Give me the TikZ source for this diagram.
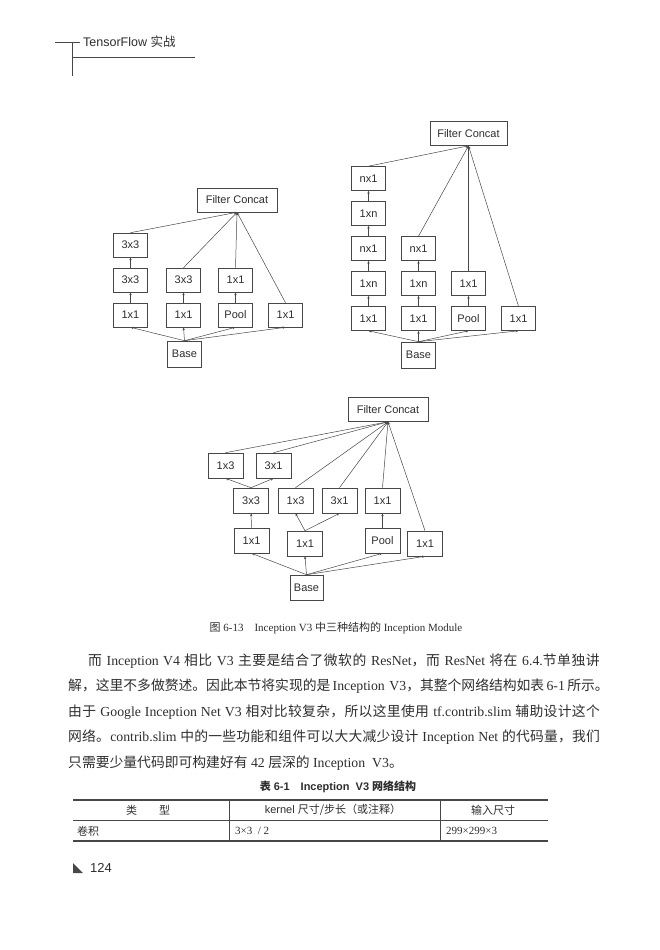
\documentclass[tikz,border=0pt]{standalone}
\usepackage{fontspec}
\setmainfont{Liberation Serif}
\setsansfont{Liberation Sans}
\newfontfamily\cjk{Noto Sans CJK SC}
\makeatletter
\def\zhloop#1{\ifx#1\relax\else#1\hskip0pt plus 1.2pt\relax\expandafter\zhloop\fi}
\newcommand\zh[1]{{\cjk\zhloop#1\relax}}
\makeatother
\usetikzlibrary{arrows.meta}
\definecolor{ink}{gray}{0.18}
\definecolor{linec}{gray}{0.28}
\tikzset{
  bx/.style={draw=linec, line width=0.6pt, fill=white, minimum width=34pt, minimum height=24pt,
    inner sep=0pt, text=ink, font=\sffamily\fontsize{11}{13}\selectfont},
  fcx/.style={bx, minimum width=80pt},
  ar/.style={draw=linec, line width=0.5pt, -{Stealth[length=3pt,width=2.4pt]}},
  para/.style={anchor=base west, inner sep=0pt, text=ink, font=\fontsize{13.8}{15}\selectfont},
  cell/.style={inner sep=0pt, text=ink, font=\fontsize{11}{13}\selectfont},
}
\begin{document}
\begin{tikzpicture}[x=1pt,y=-1pt]
\useasboundingbox (0,0) rectangle (660,950);
% header
\draw[linec, line width=0.6pt] (55,42) -- (80,42);
\draw[linec, line width=0.6pt] (72,42) -- (72,76);
\draw[linec, line width=0.6pt] (72,57) -- (195,57);
\node[anchor=base west, inner sep=0pt, text=ink, font=\sffamily\fontsize{12.5}{14}\selectfont] (hdr) at (83,47) {TensorFlow {\cjk 实战}};

% ---------- diagram 1 ----------
\node[fcx] (fc1) at (237,200) {Filter Concat};
\node[bx] (a11) at (130.5,245) {3x3};
\node[bx] (a12) at (130.5,280) {3x3};
\node[bx] (a13) at (130.5,315) {1x1};
\node[bx] (a22) at (183.5,280) {3x3};
\node[bx] (a23) at (183.5,315) {1x1};
\node[bx] (a32) at (235.5,280) {1x1};
\node[bx] (a33) at (235.5,315) {Pool};
\node[bx] (a43) at (285.5,315) {1x1};
\node[bx, minimum height=26pt] (base1) at (184.5,354) {Base};
\foreach \t in {a13,a23,a33,a43} \draw[ar] (base1.north) -- (\t.south);
\draw[ar] (a13) -- (a12);
\draw[ar] (a12) -- (a11);
\draw[ar] (a23) -- (a22);
\draw[ar] (a33) -- (a32);
\foreach \t in {a11,a22,a32,a43} \draw[ar] (\t.north) -- (fc1.south);

% ---------- diagram 2 ----------
\node[fcx, minimum width=77pt] (fc2) at (468.5,133.5) {Filter Concat};
\node[bx] (b11) at (368.5,178.5) {nx1};
\node[bx] (b12) at (368.5,213.5) {1xn};
\node[bx] (b13) at (368.5,248.5) {nx1};
\node[bx] (b14) at (368.5,283.5) {1xn};
\node[bx] (b15) at (368.5,318.5) {1x1};
\node[bx] (b23) at (418.5,248.5) {nx1};
\node[bx] (b24) at (418.5,283.5) {1xn};
\node[bx] (b25) at (418.5,318.5) {1x1};
\node[bx] (b34) at (468.5,283.5) {1x1};
\node[bx] (b35) at (468.5,318.5) {Pool};
\node[bx] (b45) at (518.5,318.5) {1x1};
\node[bx, minimum height=26pt] (base2) at (418.5,355) {Base};
\foreach \t in {b15,b25,b35,b45} \draw[ar] (base2.north) -- (\t.south);
\draw[ar] (b15) -- (b14);
\draw[ar] (b14) -- (b13);
\draw[ar] (b13) -- (b12);
\draw[ar] (b12) -- (b11);
\draw[ar] (b25) -- (b24);
\draw[ar] (b24) -- (b23);
\draw[ar] (b35) -- (b34);
\foreach \t in {b11,b23,b34,b45} \draw[ar] (\t.north) -- (fc2.south);

% ---------- diagram 3 ----------
\node[fcx] (fc3) at (388,409.5) {Filter Concat};
\node[bx, minimum width=35pt, minimum height=25pt] (c1) at (225.5,465.5) {1x3};
\node[bx, minimum width=35pt, minimum height=25pt] (c2) at (273.5,465.5) {3x1};
\node[bx, minimum width=35pt, minimum height=25pt] (d1) at (251,500.5) {3x3};
\node[bx, minimum width=35pt, minimum height=25pt] (d2) at (295.5,500.5) {1x3};
\node[bx, minimum width=35pt, minimum height=25pt] (d3) at (339.5,500.5) {3x1};
\node[bx, minimum width=35pt, minimum height=25pt] (d4) at (382.5,500.5) {1x1};
\node[bx, minimum width=35pt, minimum height=25pt] (e1) at (251.5,540.5) {1x1};
\node[bx, minimum width=35pt, minimum height=25pt] (e2) at (305,543.5) {1x1};
\node[bx, minimum width=35pt, minimum height=25pt] (e3) at (382.5,540.5) {Pool};
\node[bx, minimum width=35pt, minimum height=25pt] (e4) at (425,543.5) {1x1};
\node[bx, minimum width=33pt, minimum height=25pt] (base3) at (306.5,587.5) {Base};
\foreach \t in {e1,e2,e3,e4} \draw[ar] (base3.north) -- (\t.south);
\draw[ar] (e1) -- (d1);
\draw[ar] (e3) -- (d4);
\draw[ar] (d1.north) -- (c1.south);
\draw[ar] (d1.north) -- (c2.south);
\draw[ar] (e2.north) -- (d2.south);
\draw[ar] (e2.north) -- (d3.south);
\foreach \t in {c1,c2,d2,d3,d4,e4} \draw[ar] (\t.north) -- (fc3.south);

% caption
\node[inner sep=0pt, text=ink, font=\fontsize{11}{13}\selectfont] (cap) at (336,628)
  {{\cjk 图} 6-13\quad Inception V3 {\cjk 中三种结构的} Inception Module};

% paragraph
\node[para] (p1) at (88,665) {\makebox[512pt][s]{\zh{而} Inception V4 \zh{相比} V3 \zh{主要是结合了微软的} ResNet\zh{，而} ResNet \zh{将在} 6.4.\zh{节单独讲}}};
\node[para] (p2) at (68,690.5) {\makebox[532pt][s]{\zh{解，这里不多做赘述。因此本节将实现的是} Inception\ \ V3\zh{，其整个网络结构如表} 6-1 \zh{所示。}}};
\node[para] (p3) at (68,716) {\makebox[532pt][s]{\zh{由于} Google Inception Net V3 \zh{相对比较复杂，所以这里使用} tf.contrib.slim \zh{辅助设计这个}}};
\node[para] (p4) at (68,741.5) {\makebox[532pt][s]{\zh{网络。}contrib.slim \zh{中的一些功能和组件可以大大减少设计} Inception Net \zh{的代码量，我们}}};
\node[para] (p5) at (68,767) {{\cjk 只需要少量代码即可构建好有} 42 {\cjk 层深的} Inception\ \ V3{\cjk 。}};

% table
\node[inner sep=0pt, text=ink, font=\sffamily\bfseries\fontsize{11}{13}\selectfont] (tcap) at (338,787)
  {{\cjk 表} 6-1\quad Inception\ \ V3 {\cjk 网络结构}};
\draw[linec, line width=1.3pt] (73,800) -- (548,800);
\draw[linec, line width=0.6pt] (73,820) -- (548,820);
\draw[linec, line width=1.3pt] (73,841) -- (548,841);
\draw[linec, line width=0.6pt] (229,800) -- (229,841);
\draw[linec, line width=0.6pt] (440,800) -- (440,841);
\node[cell] (h1) at (148,810) {{\cjk 类\quad\quad 型}};
\node[cell, font=\sffamily\fontsize{11}{13}\selectfont] (h2) at (333,810) {kernel {\cjk 尺寸/步长（或注释）}};
\node[cell] (h3) at (493,810) {{\cjk 输入尺寸}};
\node[cell, anchor=west] (r1) at (77,831) {{\cjk 卷积}};
\node[cell, anchor=west] (r2) at (235,831) {3×3\ \ /\ 2};
\node[cell, anchor=west] (r3) at (446,831) {299×299×3};

% page number
\fill[linec] (73,863) -- (73,873) -- (83,873) -- cycle;
\node[anchor=west, inner sep=0pt, text=ink, font=\sffamily\fontsize{13}{15}\selectfont] (pg) at (90,868) {124};
\end{tikzpicture}
\end{document}
